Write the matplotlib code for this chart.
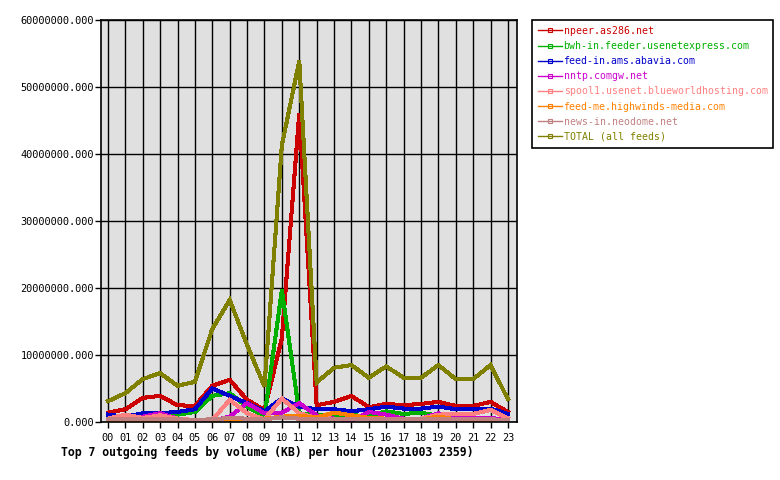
import matplotlib
matplotlib.use("Agg")
import matplotlib.pyplot as plt
from matplotlib.lines import Line2D

hours = ["00", "01", "02", "03", "04", "05", "06", "07", "08", "09", "10", "11",
         "12", "13", "14", "15", "16", "17", "18", "19", "20", "21", "22", "23"]

npeer = [1.4, 1.9, 3.6, 3.9, 2.5, 2.4, 5.4, 6.3, 3.3, 1.8, 12.5, 46.1,
         2.5, 3.0, 3.9, 2.2, 2.7, 2.5, 2.7, 3.0, 2.4, 2.4, 3.0, 1.5]
bwh = [0.6, 0.8, 1.0, 1.1, 1.1, 1.5, 3.9, 4.3, 2.3, 0.8, 19.7, 1.3,
       1.0, 0.9, 1.0, 0.9, 1.6, 1.2, 1.4, 0.9, 0.5, 0.4, 0.5, 0.4]
abavia = [1.1, 0.8, 1.3, 1.3, 1.5, 1.9, 5.0, 3.9, 2.8, 1.6, 3.5, 2.3,
          1.9, 1.9, 1.6, 1.9, 2.3, 2.0, 2.0, 2.3, 1.9, 1.9, 2.0, 1.2]
comgw = [0.3, 0.4, 0.8, 1.3, 0.5, 0.2, 0.2, 0.8, 2.8, 1.3, 1.4, 2.8,
         1.0, 0.5, 0.2, 1.5, 1.1, 0.5, 0.5, 1.3, 0.8, 0.6, 0.6, 0.3]
spool1 = [0.5, 1.1, 0.6, 1.0, 0.5, 0.3, 0.3, 3.3, 1.3, 0.4, 3.5, 1.3,
          0.6, 0.5, 0.5, 0.5, 0.5, 0.5, 0.5, 1.1, 1.2, 1.2, 1.8, 0.5]
highwinds = [0.2, 0.2, 0.3, 0.3, 0.3, 0.2, 0.3, 0.5, 0.5, 0.5, 0.8, 0.9,
             0.7, 1.4, 1.0, 0.6, 0.5, 0.4, 0.4, 0.8, 0.4, 0.3, 0.3, 0.3]
neodome = [0.4, 0.4, 0.4, 0.4, 0.4, 0.3, 0.4, 0.6, 0.5, 0.4, 0.7, 0.5,
           0.5, 0.4, 0.4, 0.4, 0.4, 0.4, 0.4, 0.4, 0.4, 0.4, 0.4, 0.3]
total = [3.1, 4.3, 6.4, 7.3, 5.4, 6.0, 13.9, 18.2, 11.5, 5.3, 41.3, 53.9,
         5.9, 8.1, 8.5, 6.6, 8.3, 6.6, 6.6, 8.5, 6.4, 6.4, 8.5, 3.4]

series_names = ["npeer.as286.net", "bwh-in.feeder.usenetexpress.com",
                "feed-in.ams.abavia.com", "nntp.comgw.net",
                "spool1.usenet.blueworldhosting.com",
                "feed-me.highwinds-media.com", "news-in.neodome.net",
                "TOTAL (all feeds)"]
series_values = [npeer, bwh, abavia, comgw, spool1, highwinds, neodome, total]
colors = ["#cc0000", "#00b000", "#0000cc", "#cc00cc", "#ff8080",
          "#ff8000", "#c08080", "#808000"]

yticks = [0, 10, 20, 30, 40, 50, 60]
ytick_labels = ["0.000", "10000000.000", "20000000.000", "30000000.000",
                "40000000.000", "50000000.000", "60000000.000"]
title = "Top 7 outgoing feeds by volume (KB) per hour (20231003 2359)"

plt.rcParams["font.family"] = ["DejaVu Sans Mono"]

fig = plt.figure(figsize=(7.8, 4.8), dpi=100)
W, H = 780, 480
ax = fig.add_axes([101 / W, 1 - 422 / H, 416 / W, 402 / H])
ax.set_facecolor("#e0e0e0")

x = list(range(len(hours)))
for name, vals, c in zip(series_names, series_values, colors):
    ax.plot(x, vals, color=c, lw=2.2, antialiased=False, solid_joinstyle="miter")

ax.set_xlim(-0.4, 23.52)
ax.set_ylim(0, 60)
ax.set_xticks(x)
ax.set_xticklabels(hours, fontsize=7.4)
ax.set_yticks(yticks)
ax.set_yticklabels(ytick_labels, fontsize=7.4)
ax.grid(True, color="black", lw=1.0)
ax.set_axisbelow(True)
ax.tick_params(axis="x", length=4, width=1, color="black", pad=4)
ax.tick_params(axis="y", length=4, width=1, color="black", pad=1)
for s in ax.spines.values():
    s.set_color("black")
    s.set_linewidth(1.2)

handles = [Line2D([0], [0], color=c, lw=1, marker="s", markersize=3,
                  markerfacecolor="none", markeredgecolor=c, markeredgewidth=0.8)
           for c in colors]
leg = ax.legend(handles, series_names, loc="upper left",
                bbox_to_anchor=(532 / W, 1 - 20 / H), bbox_transform=fig.transFigure,
                borderaxespad=0, frameon=True, fancybox=False, edgecolor="black",
                framealpha=1, fontsize=7.1, handlelength=2.4, handletextpad=0.2,
                labelspacing=0.52, borderpad=0.6)
leg.get_frame().set_linewidth(1.2)
for t, c in zip(leg.get_texts(), colors):
    t.set_color(c)

fig.text(61 / W, 1 - 452 / H, title, fontsize=8.3, fontweight="bold",
         ha="left", va="center")

fig.savefig("out.png", dpi=100, facecolor="white")
